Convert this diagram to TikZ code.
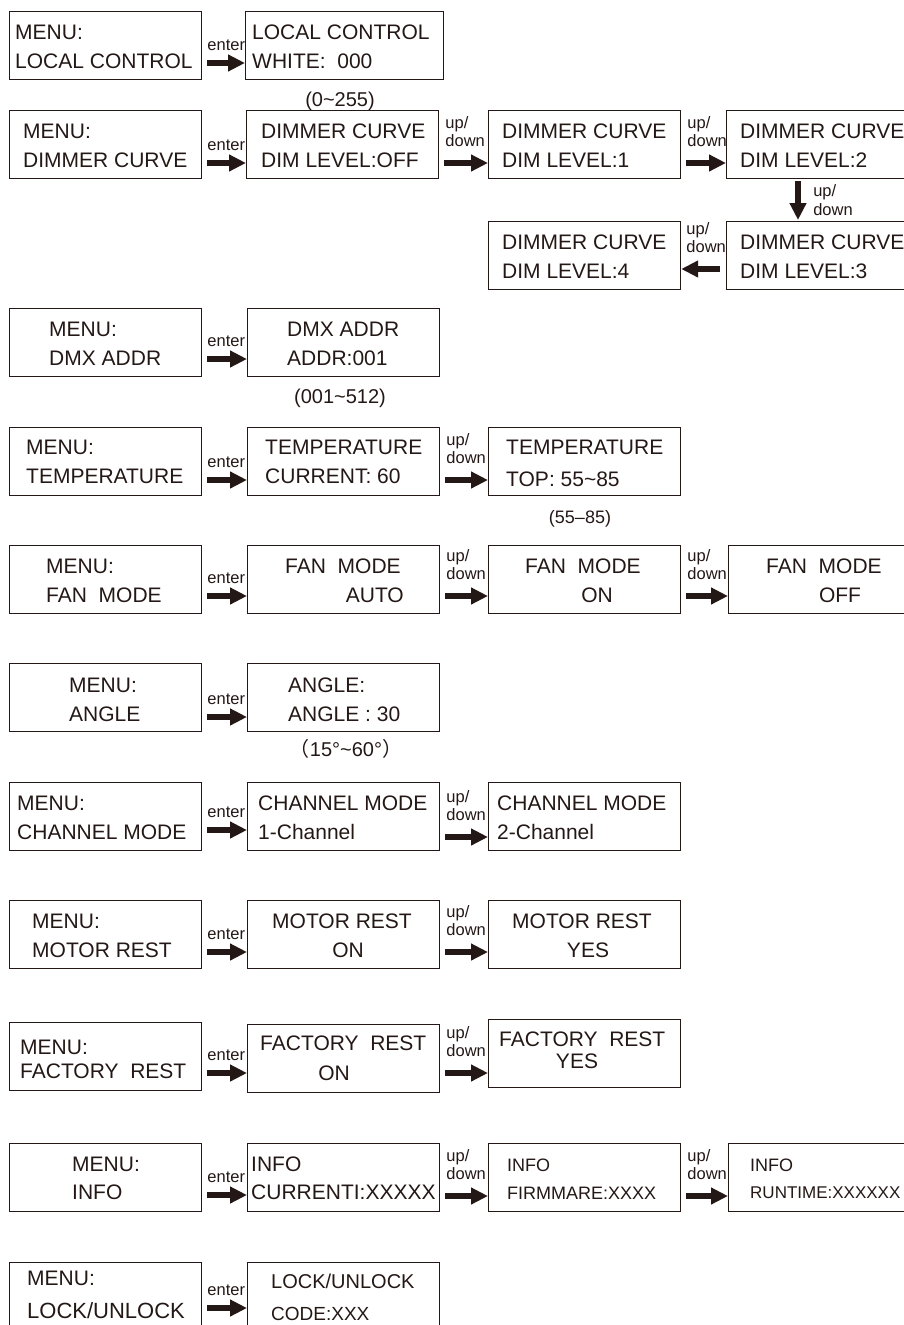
\documentclass[tikz,border=0pt]{standalone}
\usepackage{fontspec}
\setmainfont{Liberation Sans}
\newfontfamily\cjk{Noto Sans CJK SC}
\usetikzlibrary{arrows.meta}
\definecolor{ink}{HTML}{231815}

\begin{document}
\begin{tikzpicture}[x=1pt, y=-1pt,
  box/.style={draw=ink, line width=1.2pt, minimum width=192pt, minimum height=68pt, inner sep=0pt, anchor=north west},
  lcd/.style={font=\fontsize{21}{25}\selectfont, text=ink, inner sep=0pt, anchor=base west},
  note/.style={font=\fontsize{20}{24}\selectfont, text=ink, inner sep=0pt, anchor=base},
  key/.style={font=\fontsize{16.5}{18}\selectfont, text=ink, inner sep=0pt, align=left},
  enterlbl/.style={key, at start, anchor=base west, xshift=2pt, yshift=13pt},
  udlbl/.style={key, at start, anchor=south west, xshift=3pt, yshift=13pt},
  fat/.style={draw=ink, line width=6.5pt, -{Triangle[length=17pt,width=16pt]}, shorten <=5pt}]
  \useasboundingbox (0,0) rectangle (904,1325);
  \clip (0,0) rectangle (904,1325);

  % local control
  \node[box] (lc0) at (9,11) {};
  \node[box, minimum width=198pt] (lc1) at (245,11) {};
  \node[lcd] (lc0a) at (15,39) {MENU:};
  \node[lcd] (lc0b) at (15,68) {LOCAL CONTROL};
  \node[lcd] (lc1a) at (252,39) {LOCAL CONTROL};
  \node[lcd] (lc1b) at (252,68) {WHITE:\ \ 000};
  \node[note] (lcr) at (340,106) {(0\textasciitilde255)};
  \draw[fat] (lc0.east |- 0,63) -- (lc1.west |- 0,63) node[enterlbl] (lce) {enter};

  % dimmer curve
  \node[box] (dc0) at (9,110) {};
  \node[box] (dc1) at (246,110) {};
  \node[box] (dc2) at (488,110) {};
  \node[box] (dc3) at (726,110) {};
  \node[box] (dc4) at (726,221) {};
  \node[box] (dc5) at (488,221) {};
  \node[lcd] (dc0a) at (23,138) {MENU:};
  \node[lcd] (dc0b) at (23,167) {DIMMER CURVE};
  \node[lcd] (dc1a) at (261,138) {DIMMER CURVE};
  \node[lcd] (dc1b) at (261,167) {DIM LEVEL:OFF};
  \node[lcd] (dc2a) at (502,138) {DIMMER CURVE};
  \node[lcd] (dc2b) at (502,167) {DIM LEVEL:1};
  \node[lcd] (dc3a) at (740,138) {DIMMER CURVE};
  \node[lcd] (dc3b) at (740,167) {DIM LEVEL:2};
  \node[lcd] (dc4a) at (740,249) {DIMMER CURVE};
  \node[lcd] (dc4b) at (740,278) {DIM LEVEL:3};
  \node[lcd] (dc5a) at (502,249) {DIMMER CURVE};
  \node[lcd] (dc5b) at (502,278) {DIM LEVEL:4};
  \draw[fat] (dc0.east |- 0,163) -- (dc1.west |- 0,163) node[enterlbl] (dce) {enter};
  \draw[fat] (dc1.east |- 0,163) -- (dc2.west |- 0,163) node[udlbl] (dcu1) {up/\\down};
  \draw[fat] (dc2.east |- 0,163) -- (dc3.west |- 0,163) node[udlbl] (dcu2) {up/\\down};
  \draw[fat, shorten <=2pt, shorten >=1pt] (dc3.south -| 798,0) -- (dc4.north -| 798,0)
    node[midway, key, anchor=west, xshift=12pt] (dcu3) {up/\\down};
  \draw[fat, shorten <=6pt] (dc4.west |- 0,269) -- (dc5.east |- 0,269)
    node[at end, key, anchor=south west, xshift=2pt, yshift=13pt] (dcu4) {up/\\down};

  % dmx address
  \node[box] (dx0) at (9,308) {};
  \node[box] (dx1) at (247,308) {};
  \node[lcd] (dx0a) at (49,336) {MENU:};
  \node[lcd] (dx0b) at (49,365) {DMX ADDR};
  \node[lcd] (dx1a) at (287,336) {DMX ADDR};
  \node[lcd] (dx1b) at (287,365) {ADDR:001};
  \node[note] (dxr) at (340,403) {(001\textasciitilde512)};
  \draw[fat] (dx0.east |- 0,359) -- (dx1.west |- 0,359) node[enterlbl] (dxe) {enter};

  % temperature
  \node[box] (tp0) at (9,427) {};
  \node[box] (tp1) at (247,427) {};
  \node[box] (tp2) at (488,427) {};
  \node[lcd] (tp0a) at (26,454) {MENU:};
  \node[lcd] (tp0b) at (26,483) {TEMPERATURE};
  \node[lcd] (tp1a) at (265,454) {TEMPERATURE};
  \node[lcd] (tp1b) at (265,483) {CURRENT: 60};
  \node[lcd] (tp2a) at (506,454) {TEMPERATURE};
  \node[lcd] (tp2b) at (506,486) {TOP: 55\textasciitilde85};
  \node[note, font=\fontsize{18}{22}\selectfont] (tpr) at (580,523) {(55–85)};
  \draw[fat] (tp0.east |- 0,480) -- (tp1.west |- 0,480) node[enterlbl] (tpe) {enter};
  \draw[fat] (tp1.east |- 0,480) -- (tp2.west |- 0,480) node[udlbl] (tpu) {up/\\down};

  % fan mode
  \node[box] (fm0) at (9,545) {};
  \node[box] (fm1) at (247,545) {};
  \node[box] (fm2) at (488,545) {};
  \node[box] (fm3) at (728,545) {};
  \node[lcd] (fm0a) at (46,573) {MENU:};
  \node[lcd] (fm0b) at (46,602) {FAN\ \ MODE};
  \node[lcd] (fm1a) at (285,573) {FAN\ \ MODE};
  \node[lcd, anchor=base east] (fm1b) at (404,602) {AUTO};
  \node[lcd] (fm2a) at (525,573) {FAN\ \ MODE};
  \node[lcd, anchor=base] (fm2b) at (597,602) {ON};
  \node[lcd] (fm3a) at (766,573) {FAN\ \ MODE};
  \node[lcd, anchor=base] (fm3b) at (840,602) {OFF};
  \draw[fat] (fm0.east |- 0,596) -- (fm1.west |- 0,596) node[enterlbl] (fme) {enter};
  \draw[fat] (fm1.east |- 0,596) -- (fm2.west |- 0,596) node[udlbl] (fmu1) {up/\\down};
  \draw[fat] (fm2.east |- 0,596) -- (fm3.west |- 0,596) node[udlbl] (fmu2) {up/\\down};

  % angle
  \node[box] (ag0) at (9,663) {};
  \node[box] (ag1) at (247,663) {};
  \node[lcd] (ag0a) at (69,692) {MENU:};
  \node[lcd] (ag0b) at (69,721) {ANGLE};
  \node[lcd] (ag1a) at (288,692) {ANGLE:};
  \node[lcd] (ag1b) at (288,721) {ANGLE : 30};
  \node[note] (agr) at (346,756) {{\cjk （}15°\textasciitilde60°{\cjk ）}};
  \draw[fat] (ag0.east |- 0,717) -- (ag1.west |- 0,717) node[enterlbl] (age) {enter};

  % channel mode
  \node[box] (ch0) at (9,782) {};
  \node[box] (ch1) at (247,782) {};
  \node[box] (ch2) at (488,782) {};
  \node[lcd] (ch0a) at (17,810) {MENU:};
  \node[lcd] (ch0b) at (17,839) {CHANNEL MODE};
  \node[lcd] (ch1a) at (258,810) {CHANNEL MODE};
  \node[lcd] (ch1b) at (258,839) {1-Channel};
  \node[lcd] (ch2a) at (497,810) {CHANNEL MODE};
  \node[lcd] (ch2b) at (497,839) {2-Channel};
  \draw[fat] (ch0.east |- 0,830) -- (ch1.west |- 0,830) node[enterlbl] (che) {enter};
  \draw[fat] (ch1.east |- 0,837) -- (ch2.west |- 0,837) node[udlbl] (chu) {up/\\down};

  % motor rest
  \node[box] (mr0) at (9,900) {};
  \node[box] (mr1) at (247,900) {};
  \node[box] (mr2) at (488,900) {};
  \node[lcd] (mr0a) at (32,928) {MENU:};
  \node[lcd] (mr0b) at (32,957) {MOTOR REST};
  \node[lcd] (mr1a) at (272,928) {MOTOR REST};
  \node[lcd, anchor=base] (mr1b) at (348,957) {ON};
  \node[lcd] (mr2a) at (512,928) {MOTOR REST};
  \node[lcd, anchor=base] (mr2b) at (588,957) {YES};
  \draw[fat] (mr0.east |- 0,952) -- (mr1.west |- 0,952) node[enterlbl] (mre) {enter};
  \draw[fat] (mr1.east |- 0,952) -- (mr2.west |- 0,952) node[udlbl] (mru) {up/\\down};

  % factory rest
  \node[box] (fr0) at (9,1022) {};
  \node[box] (fr1) at (247,1024) {};
  \node[box] (fr2) at (488,1019) {};
  \node[lcd] (fr0a) at (20,1054) {MENU:};
  \node[lcd] (fr0b) at (20,1078) {FACTORY\ \ REST};
  \node[lcd] (fr1a) at (260,1050) {FACTORY\ \ REST};
  \node[lcd, anchor=base] (fr1b) at (334,1080) {ON};
  \node[lcd] (fr2a) at (499,1046) {FACTORY\ \ REST};
  \node[lcd, anchor=base] (fr2b) at (577,1068) {YES};
  \draw[fat] (fr0.east |- 0,1073) -- (fr1.west |- 0,1073) node[enterlbl] (fre) {enter};
  \draw[fat] (fr1.east |- 0,1073) -- (fr2.west |- 0,1073) node[udlbl] (fru) {up/\\down};

  % info
  \node[box] (in0) at (9,1143) {};
  \node[box] (in1) at (247,1143) {};
  \node[box] (in2) at (488,1143) {};
  \node[box] (in3) at (728,1143) {};
  \node[lcd] (in0a) at (72,1171) {MENU:};
  \node[lcd] (in0b) at (72,1199) {INFO};
  \node[lcd] (in1a) at (251,1171) {INFO};
  \node[lcd] (in1b) at (251,1199) {CURRENTI:XXXXX};
  \node[lcd, font=\fontsize{18}{22}\selectfont] (in2a) at (507,1171) {INFO};
  \node[lcd, font=\fontsize{18}{22}\selectfont] (in2b) at (507,1199) {FIRMMARE:XXXX};
  \node[lcd, font=\fontsize{18}{22}\selectfont] (in3a) at (750,1171) {INFO};
  \node[lcd, font=\fontsize{17}{21}\selectfont] (in3b) at (750,1198) {RUNTIME:XXXXXX};
  \draw[fat] (in0.east |- 0,1195) -- (in1.west |- 0,1195) node[enterlbl] (ine) {enter};
  \draw[fat] (in1.east |- 0,1196) -- (in2.west |- 0,1196) node[udlbl] (inu1) {up/\\down};
  \draw[fat] (in2.east |- 0,1196) -- (in3.west |- 0,1196) node[udlbl] (inu2) {up/\\down};

  % lock / unlock
  \node[box] (lk0) at (9,1262) {};
  \node[box] (lk1) at (247,1262) {};
  \node[lcd] (lk0a) at (27,1285) {MENU:};
  \node[lcd, font=\fontsize{22}{26}\selectfont] (lk0b) at (27,1318) {LOCK/UNLOCK};
  \node[lcd, font=\fontsize{20}{24}\selectfont] (lk1a) at (271,1288) {LOCK/UNLOCK};
  \node[lcd, font=\fontsize{19}{23}\selectfont] (lk1b) at (271,1320) {CODE:XXX};
  \draw[fat] (lk0.east |- 0,1308) -- (lk1.west |- 0,1308) node[enterlbl] (lke) {enter};
\end{tikzpicture}
\end{document}
